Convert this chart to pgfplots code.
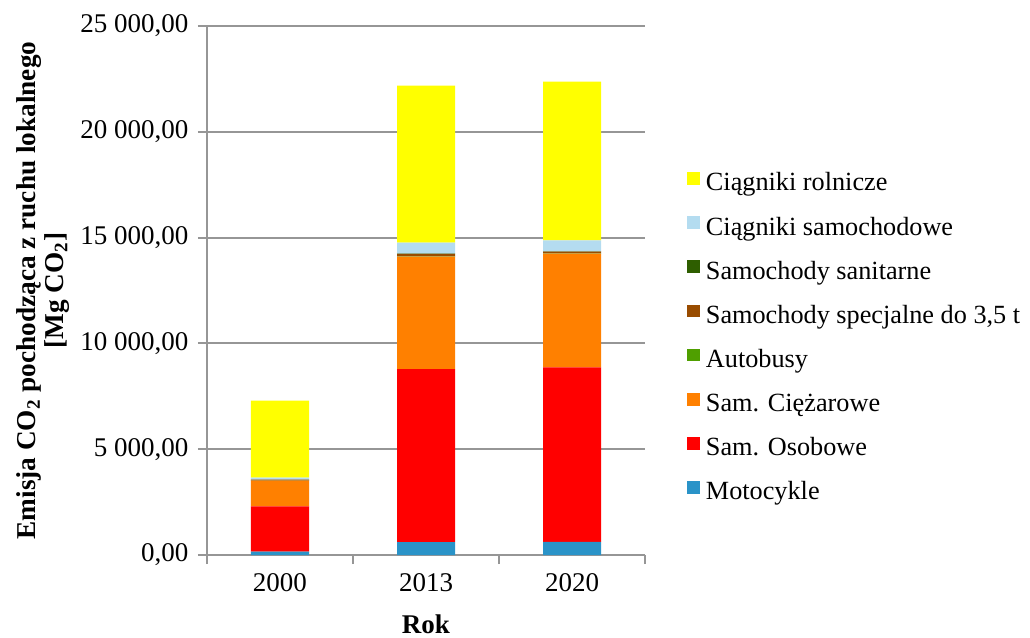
\documentclass[border=0pt]{standalone}
\usepackage{fontspec}
\setmainfont{Liberation Serif}
\usepackage{pgfplots}
\pgfplotsset{compat=1.18}
\definecolor{cRol}{HTML}{FFFF00}
\definecolor{cSam}{HTML}{B4DCF0}
\definecolor{cSan}{HTML}{2E5E00}
\definecolor{cSpe}{HTML}{994C00}
\definecolor{cAut}{HTML}{4F9F00}
\definecolor{cCie}{HTML}{FF8000}
\definecolor{cOso}{HTML}{FF0000}
\definecolor{cMot}{HTML}{2A93C8}
\definecolor{gridgray}{HTML}{969696}
\begin{document}
\fontsize{10.8pt}{13pt}\selectfont
\begin{tikzpicture}
\useasboundingbox (-82.8pt,-32.8pt) rectangle (329.2pt,222pt);
\begin{axis}[
  at={(0,0)}, anchor=south west,
  scale only axis, width=175.2pt, height=211.6pt,
  ybar stacked, bar width=23.2pt,
  xmin=-0.5, xmax=2.5, ymin=0, ymax=25000,
  scaled y ticks=false,
  xtick={0,1,2}, xticklabels={2000,2013,2020},
  minor xtick={-0.5,0.5,1.5,2.5},
  ytick={0,5000,10000,15000,20000,25000},
  yticklabels={{0,00},{5~000,00},{10~000,00},{15~000,00},{20~000,00},{25~000,00}},
  axis x line*=bottom, axis y line*=left,
  axis line style={draw=gridgray, line width=0.8pt, -},
  ymajorgrids, grid style={gridgray, line width=0.8pt},
  tick align=outside, major tick length=3.6pt, minor tick length=3.6pt,
  tick style={gridgray, line width=0.8pt},
  major x tick style={draw=none},
  ticklabel style={font=\fontsize{10.8pt}{13pt}\selectfont},
  xlabel={Rok},
  xlabel style={font=\bfseries\fontsize{10.8pt}{13pt}\selectfont, at={(axis description cs:0.5,-0.131)}, anchor=center},
  ylabel={Emisja CO\textsubscript{2} pochodząca z ruchu lokalnego\\{}[Mg CO\textsubscript{2}]},
  ylabel style={font=\bfseries\fontsize{10.9pt}{11pt}\selectfont, align=center, at={(axis description cs:-0.374,0.5)}, anchor=center},
  reverse legend,
  legend cell align=left,
  legend image code/.code={\fill[#1] (0pt,-0.2pt) rectangle (5.3pt,4.9pt);},
  legend style={at={(axis description cs:1.0775,0.734)}, anchor=north west, draw=none, fill=none,
    font=\fontsize{10.5pt}{12.6pt}\selectfont,
    nodes={inner sep=0pt, text height=7.5pt, text depth=2.3pt},
    row sep=7.85pt, column sep=2.3pt},
]
\addplot[fill=cMot, draw=none] coordinates {(0,156) (1,614) (2,620)};
\addlegendentry{Motocykle}
\addplot[fill=cOso, draw=none] coordinates {(0,2141) (1,8176) (2,8246)};
\addlegendentry{Sam. Osobowe}
\addplot[fill=cCie, draw=none] coordinates {(0,1214) (1,5307) (2,5373)};
\addlegendentry{Sam. Ciężarowe}
\addplot[fill=cAut, draw=none] coordinates {(0,10) (1,20) (2,20)};
\addlegendentry{Autobusy}
\addplot[fill=cSpe, draw=none] coordinates {(0,40) (1,120) (2,75)};
\addlegendentry{Samochody specjalne do 3,5 t}
\addplot[fill=cSan, draw=none] coordinates {(0,5) (1,10) (2,10)};
\addlegendentry{Samochody sanitarne}
\addplot[fill=cSam, draw=none] coordinates {(0,90) (1,520) (2,530)};
\addlegendentry{Ciągniki samochodowe}
\addplot[fill=cRol, draw=none] coordinates {(0,3636) (1,7413) (2,7494)};
\addlegendentry{Ciągniki rolnicze}
\end{axis}
\end{tikzpicture}
\end{document}
